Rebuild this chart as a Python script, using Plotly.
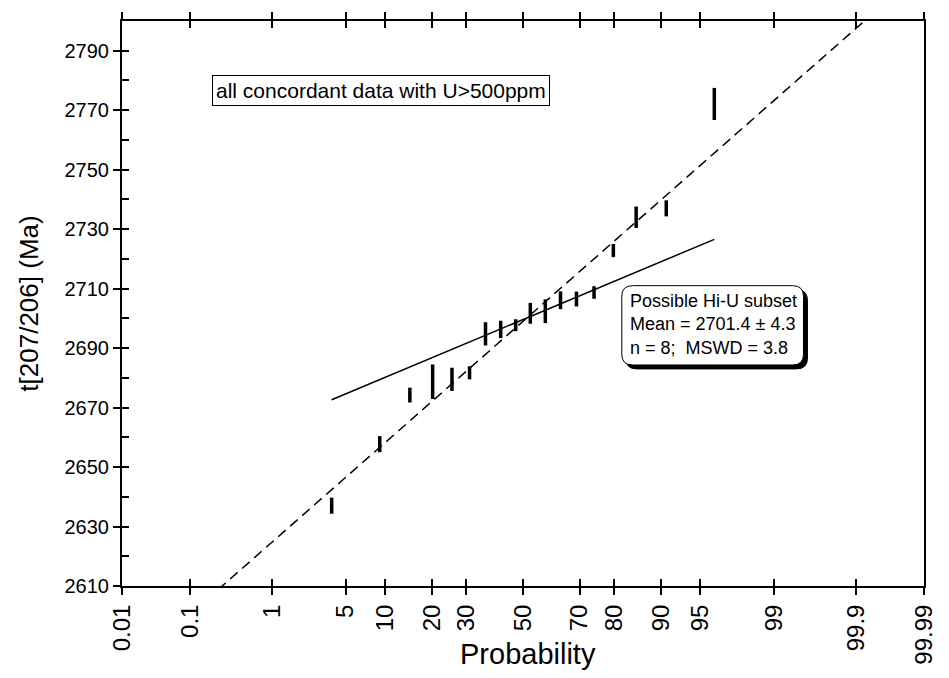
import plotly.graph_objects as go
from statistics import NormalDist

# Cumulative probability (%) of each analysis, ages and 2-sigma half-errors (Ma)
prob_pct = [3.8, 9.2, 14.7, 20.1, 25.5, 31.0, 36.4, 41.8, 47.3,
            52.7, 58.2, 63.6, 69.0, 74.5, 79.9, 85.3, 90.8, 96.2]
age_ma = [2637.0, 2657.7, 2674.2, 2678.7, 2679.5, 2681.7, 2694.8, 2696.3, 2697.7,
          2701.7, 2702.4, 2706.1, 2706.5, 2708.7, 2722.8, 2734.0, 2737.0, 2772.1]
err_ma = [2.7, 2.7, 2.5, 5.8, 3.9, 2.2, 3.9, 2.9, 2.0,
          3.5, 4.0, 3.0, 2.5, 2.1, 2.2, 3.6, 2.7, 5.4]

tick_prob = [0.01, 0.1, 1, 5, 10, 20, 30, 50, 70, 80, 90, 95, 99, 99.9, 99.99]
tick_text = ["0.01", "0.1", "1", "5", "10", "20", "30", "50", "70", "80",
             "90", "95", "99", "99.9", "99.99"]
y_tick_vals = list(range(2610, 2791, 20))
y_range = [2610, 2800]

# Normal-distribution lines: all data (dashed) and the Hi-U subset (solid)
all_mean, all_sd = 2699.0, 31.9
sub_mean, sub_sd = 2699.6, 15.2

nd = NormalDist()


def zq(p):
    return nd.inv_cdf(p / 100.0)


z_pts = [zq(p) for p in prob_pct]
z_lo, z_hi = zq(tick_prob[0]), zq(tick_prob[-1])
x_range = [z_lo - 1e-6, z_hi + 1e-6]

FONT = "Arial, Liberation Sans, Helvetica, sans-serif"
W, H = 949, 678
ML, MR, MT, MB = 122, 15, 16, 92
PW, PH = W - ML - MR, H - MT - MB


def px(x):
    return (x - ML) / PW


def py(y):
    return 1 - (y - MT) / PH


fig = go.Figure()

fig.add_trace(go.Scatter(
    x=[z_lo, z_hi], y=[all_mean + all_sd * z_lo, all_mean + all_sd * z_hi],
    mode="lines", line=dict(color="black", width=1.5, dash="10px,6px"),
    hoverinfo="skip", showlegend=False))

fig.add_trace(go.Scatter(
    x=[z_pts[0], z_pts[-1]],
    y=[sub_mean + sub_sd * z_pts[0], sub_mean + sub_sd * z_pts[-1]],
    mode="lines", line=dict(color="black", width=1.5),
    hoverinfo="skip", showlegend=False))

fig.add_trace(go.Scatter(
    x=z_pts, y=age_ma, mode="markers",
    marker=dict(size=2, color="black"),
    error_y=dict(type="data", array=err_ma, symmetric=True, width=0,
                 thickness=3.5, color="black"),
    showlegend=False))

# companion axes carrying the inward tick marks
fig.add_trace(go.Scatter(x=[z_lo], y=[y_range[0]], xaxis="x2", yaxis="y2",
                         mode="markers", marker=dict(opacity=0),
                         hoverinfo="skip", showlegend=False))

tick_z = [zq(p) for p in tick_prob]

fig.update_layout(
    width=W, height=H,
    margin=dict(l=ML, r=MR, t=MT, b=MB),
    paper_bgcolor="white", plot_bgcolor="white",
    font=dict(family=FONT, color="black"),
    xaxis=dict(range=x_range, tickvals=tick_z, ticktext=tick_text,
               tickangle=-90, ticks="outside", ticklen=7, tickwidth=1.5,
               tickcolor="black", showline=True, linewidth=2, linecolor="black",
               mirror="allticks", showgrid=False, zeroline=False,
               tickfont=dict(size=24, family=FONT)),
    xaxis2=dict(range=x_range, tickvals=tick_z, overlaying="x", anchor="y2",
                side="bottom", ticks="inside", ticklen=7, tickwidth=1.5,
                tickcolor="black", mirror="allticks", showline=False,
                showticklabels=False, showgrid=False, zeroline=False),
    yaxis=dict(range=y_range, tickvals=y_tick_vals, ticks="outside", ticklen=7,
               tickwidth=1.5, tickcolor="black", showline=True, linewidth=2,
               linecolor="black", mirror=True, showgrid=False, zeroline=False,
               tickfont=dict(size=20, family=FONT),
               title=dict(text="t[207/206] (Ma)", font=dict(size=26, family=FONT),
                          standoff=18)),
    yaxis2=dict(range=y_range, tick0=2610, dtick=10, overlaying="y", anchor="x2",
                side="left", ticks="inside", ticklen=7, tickwidth=1.5,
                tickcolor="black", showline=False, showticklabels=False,
                showgrid=False, zeroline=False),
)

# x-axis title
fig.add_annotation(text="Probability", xref="paper", yref="paper",
                   x=px(533), y=py(655), xanchor="center", yanchor="middle",
                   showarrow=False, font=dict(size=29, family=FONT))

# dataset caption
fig.add_annotation(text="all concordant data with U&gt;500ppm", xref="paper",
                   yref="paper", x=px(384), y=py(86), xanchor="center",
                   yanchor="middle", showarrow=False,
                   font=dict(size=21, family=FONT), bgcolor="white",
                   bordercolor="black", borderwidth=1, borderpad=3)


def rounded_path(x0, y0, x1, y1, r):
    # rectangle with rounded corners, pixel coordinates -> paper coordinates
    pts = [
        ("M", [(x0 + r, y0)]), ("L", [(x1 - r, y0)]), ("Q", [(x1, y0), (x1, y0 + r)]),
        ("L", [(x1, y1 - r)]), ("Q", [(x1, y1), (x1 - r, y1)]),
        ("L", [(x0 + r, y1)]), ("Q", [(x0, y1), (x0, y1 - r)]),
        ("L", [(x0, y0 + r)]), ("Q", [(x0, y0), (x0 + r, y0)]),
    ]
    out = []
    for cmd, coords in pts:
        out.append(cmd + " ".join(f"{px(a):.5f},{py(b):.5f}" for a, b in coords))
    return " ".join(out) + " Z"


bx0, by0, bx1, by1 = 628, 283, 812, 363
fig.add_shape(type="path", xref="paper", yref="paper",
              path=rounded_path(bx0 + 4, by0 + 4, bx1 + 4, by1 + 4, 11),
              fillcolor="black", line=dict(color="black", width=1))
fig.add_shape(type="path", xref="paper", yref="paper",
              path=rounded_path(bx0, by0, bx1, by1, 11),
              fillcolor="white", line=dict(color="black", width=1))

fig.add_annotation(
    text="Possible Hi-U subset<br>Mean = 2701.4 ± 4.3<br>n = 8;  MSWD = 3.8",
    xref="paper", yref="paper", x=px(634), y=py(322), xanchor="left",
    yanchor="middle", align="left", showarrow=False,
    font=dict(size=18, family=FONT))

fig.write_html("out.html")
